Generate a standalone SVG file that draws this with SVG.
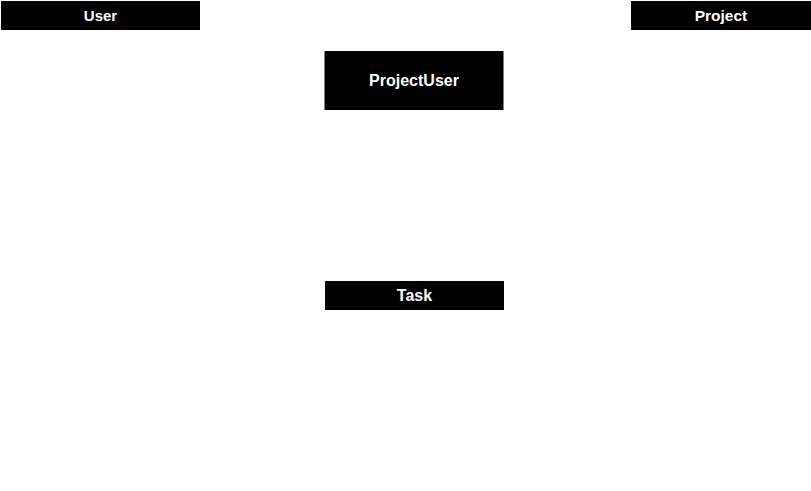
<svg xmlns="http://www.w3.org/2000/svg" width="811" height="491" viewBox="0 0 811 491">
<style>
.box{fill:#000;stroke:none}
.lbl{fill:#fff;font-family:"Liberation Sans",Arial,Helvetica,sans-serif;font-size:16px;font-weight:bold;text-anchor:middle;dominant-baseline:central}
</style>
<rect x="0" y="0" width="811" height="491" fill="#fff"/>
<g id="connectors"></g>
<g id="User"><rect class="box" x="1" y="1" width="199" height="29"/><text class="lbl" x="100.5" y="15.5" style="font-size:15px">User</text></g>
<g id="Project"><rect class="box" x="631" y="1" width="180" height="29"/><text class="lbl" x="721" y="15" style="font-size:15.5px">Project</text></g>
<g id="ProjectUser"><rect class="box" x="324.5" y="51" width="179" height="59"/><text class="lbl" x="414" y="80">ProjectUser</text></g>
<g id="Task"><rect class="box" x="325" y="281" width="179" height="29"/><text class="lbl" x="414.5" y="295">Task</text></g>
</svg>
